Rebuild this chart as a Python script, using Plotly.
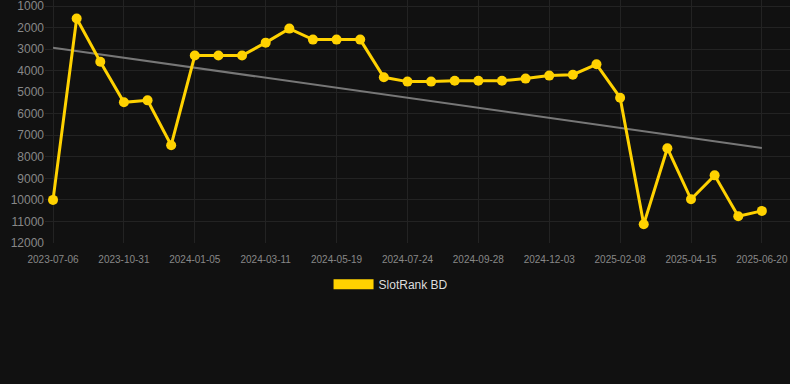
import numpy as np
import plotly.graph_objects as go

# Data
tick_labels = ["2023-07-06", "2023-10-31", "2024-01-05", "2024-03-11", "2024-05-19",
               "2024-07-24", "2024-09-28", "2024-12-03", "2025-02-08", "2025-04-15", "2025-06-20"]
ranks = [10000, 1580, 3585, 5470, 5380, 7460, 3300, 3300, 3300, 2700, 2050,
         2560, 2560, 2560, 4310, 4510, 4510, 4470, 4470, 4470, 4370, 4230,
         4190, 3705, 5255, 11130, 7600, 9970, 8860, 10760, 10510]
series_name = "SlotRank BD"
y_ticks = list(range(1000, 12001, 1000))

idx = np.arange(len(ranks))
tick_every = 3
tick_idx = idx[::tick_every]

# linear trend
slope, intercept = np.polyfit(idx, ranks, 1)
trend = slope * idx + intercept

YELLOW = "#FFD200"
BG = "#111111"
GRID = "#232323"

fig = go.Figure()
fig.add_trace(go.Scatter(
    x=idx, y=trend, mode="lines",
    line=dict(color="#777777", width=2),
    showlegend=False, hoverinfo="skip"))
fig.add_trace(go.Scatter(
    x=idx, y=ranks, mode="lines+markers",
    line=dict(color=YELLOW, width=3),
    marker=dict(color=YELLOW, size=10),
    name=series_name, showlegend=False))
# legend swatch
fig.add_trace(go.Scatter(
    x=[None], y=[None], mode="lines",
    line=dict(color=YELLOW, width=11),
    name=series_name, showlegend=True))

fig.update_layout(
    width=790, height=384,
    paper_bgcolor=BG, plot_bgcolor=BG,
    margin=dict(l=45, r=0, t=0, b=141),
    font=dict(family="Liberation Sans, Arial, sans-serif", color="#888888"),
    showlegend=True,
    legend=dict(orientation="h", xref="container", yref="container",
                x=0.495, xanchor="center", y=0.26, yanchor="middle",
                font=dict(size=12, color="#DDDDDD"),
                bgcolor="rgba(0,0,0,0)", itemwidth=40),
)
fig.update_xaxes(
    range=[-0.34, 31.19],
    tickmode="array", tickvals=tick_idx, ticktext=tick_labels,
    tickfont=dict(size=10, color="#888888"),
    ticklabelstandoff=9, ticklabeloverflow="allow",
    showgrid=True, gridcolor=GRID, gridwidth=1,
    zeroline=False, showline=False, ticks="")
fig.update_yaxes(
    range=[12000, 721.5],
    tickmode="array", tickvals=y_ticks, tickformat="d",
    tickfont=dict(size=12, color="#888888"),
    ticklabeloverflow="allow",
    showgrid=True, gridcolor=GRID, gridwidth=1,
    zeroline=False, showline=False, ticks="")

fig.write_html("out.html", config={"displayModeBar": False},
               post_script="document.body.style.margin='0';document.body.style.background='#111111';")
